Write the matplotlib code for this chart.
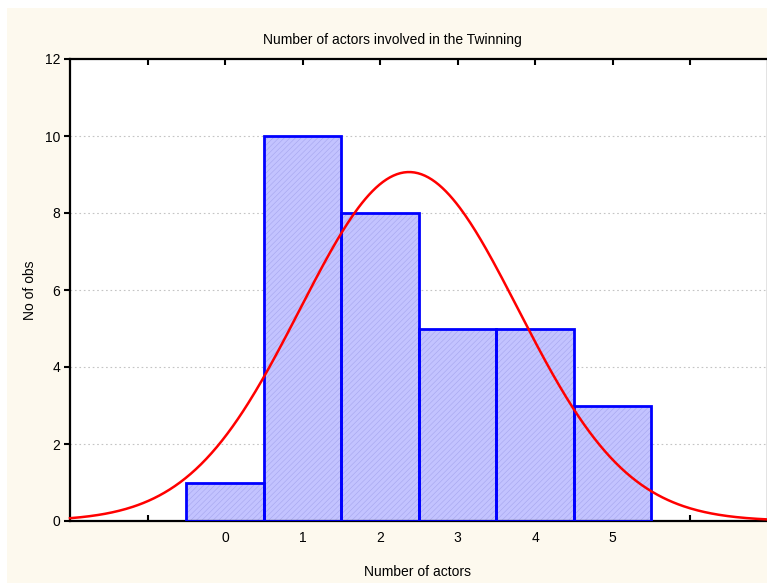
import numpy as np
import matplotlib
matplotlib.use("Agg")
import matplotlib.pyplot as plt
from matplotlib.patches import Rectangle

plt.rcParams['font.family'] = ['Liberation Sans', 'DejaVu Sans']
plt.rcParams['hatch.linewidth'] = 0.4

# Histogram data: number of actors vs count of observations
categories = [0, 1, 2, 3, 4, 5]
counts = [1, 10, 8, 5, 5, 3]
x_tick_labels = ["0", "1", "2", "3", "4", "5"]
y_ticks = [0, 2, 4, 6, 8, 10, 12]

W, H = 767, 583
fig = plt.figure(figsize=(W / 100, H / 100), dpi=100, facecolor="white")

# cream panel behind the plot
fig.patches.append(Rectangle((7 / W, 0), 1 - 7 / W, 1 - 8 / H, transform=fig.transFigure,
                             facecolor="#fdf9ee", edgecolor="none", zorder=-10))

ax = fig.add_axes([70 / W, (H - 521) / H, 697.5 / W, 462 / H])
ax.set_zorder(1)
ax.set_facecolor("white")
ax.set_xlim(-2, 7)
ax.set_ylim(0, 12)

# grid
for yv in y_ticks[1:-1]:
    ax.axhline(yv, color="#c4c4c4", lw=0.8, ls=(0, (1.5, 2.5)), zorder=1)

# bars: hatched fill then outline
ax.bar(categories, counts, width=1.0, color="#c3c3ff", edgecolor="#a6a6ee",
       hatch="//////", linewidth=0, zorder=2)
ax.bar(categories, counts, width=1.0, fill=False, edgecolor="#0000ff",
       linewidth=2.0, zorder=3)

# fitted normal curve
vals = np.repeat(categories, counts)
mu = vals.mean()
sd = vals.std(ddof=1)
n = len(vals)
xs = np.linspace(-2, 7, 400)
ys = n * 1.0 / (sd * np.sqrt(2 * np.pi)) * np.exp(-0.5 * ((xs - mu) / sd) ** 2)
ax.plot(xs, ys, color="#ff0000", lw=1.8, zorder=4, clip_on=False)

# axes styling
for s in ax.spines.values():
    s.set_linewidth(1.6)
    s.set_color("black")

ax.set_xticks(range(-1, 7))
ax.set_xticklabels([""] + x_tick_labels + [""])
ax.tick_params(axis="x", which="both", direction="in", length=4, width=1.5,
               top=True, labelsize=10, pad=7)
ax.set_yticks(y_ticks)
ax.set_yticklabels([str(v) for v in y_ticks])
ax.tick_params(axis="y", direction="out", length=4, width=1.5, labelsize=10, pad=3,
               right=True)

ax.set_xlabel("Number of actors", fontsize=10, va="center")
ax.xaxis.set_label_coords((418 - 70) / 697.5, (521 - 572) / 462)
ax.set_ylabel("No of obs", fontsize=10, va="center")
ax.yaxis.set_label_coords((30 - 70) / 697.5, 0.5)
fig.text(392 / W, 1 - 40 / H, "Number of actors involved in the Twinning",
         ha="center", va="center", fontsize=10)

fig.savefig("out.png", dpi=100, facecolor=fig.get_facecolor())
